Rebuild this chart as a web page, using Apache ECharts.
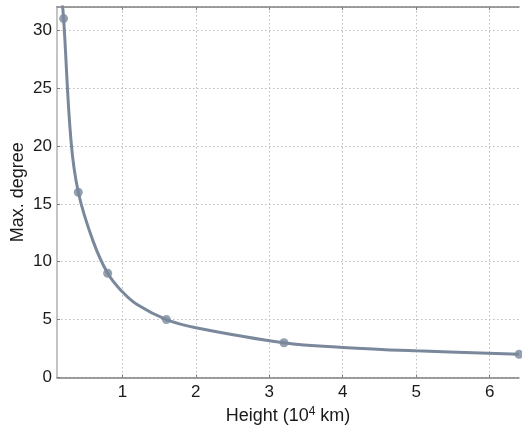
<!DOCTYPE html>
<html><head><meta charset="utf-8">
<script src="https://cdn.jsdelivr.net/npm/echarts@6/dist/echarts.min.js"></script>
<style>html,body{margin:0;padding:0;background:#fff}#c{width:522px;height:427px}</style>
</head><body><div id="c"></div>
<script>
// measured data points (height in 10^4 km, max degree)
var heights = [0.2, 0.4, 0.8, 1.6, 3.2, 6.4];
var degrees = [31, 16, 9, 5, 3, 2];
// curve (including where it leaves the top of the plot)
var curveX = [0.17, 0.2, 0.3, 0.4, 0.6, 0.8, 1.0, 1.2, 1.6, 2.0, 3.2, 4.0, 5.0, 6.4];
var curveY = [33, 31, 20.5, 16, 11.8, 9, 7.4, 6.3, 5, 4.3, 3, 2.6, 2.3, 2];
var xTicks = [1, 2, 3, 4, 5, 6];

var col = '#7a889b';
var chart = echarts.init(document.getElementById('c'), null, {renderer: 'canvas'});
var font = 'Liberation Sans, Arial, sans-serif';
chart.setOption({
  animation: false,
  grid: {left: 57, right: 3, top: 7, bottom: 49.5, containLabel: false, outerBoundsMode: 'none'},
  xAxis: [{
    type: 'value', min: 0.11, max: 6.4,
    name: 'Height (10{s|4} km)', nameLocation: 'middle', nameGap: 24,
    nameTextStyle: {fontFamily: font, fontSize: 18, color: '#1a1a1a', verticalAlign: 'top',
      rich: {s: {fontFamily: font, fontSize: 12, color: '#1a1a1a', verticalAlign: 'top', padding: [0,0,9,0]}}},
    axisLine: {show: true, onZero: false, lineStyle: {color: '#808080', width: 1.5}},
    axisTick: {show: true, inside: true, length: 3, customValues: xTicks, lineStyle: {color: '#808080'}},
    axisLabel: {customValues: xTicks, fontFamily: font, fontSize: 17, color: '#1a1a1a', margin: 6,
      formatter: function (v) { return String(v); }},
    splitLine: {show: true, lineStyle: {color: '#bdbdbd', type: [1.5, 2.5], width: 1}}
  }, {
    type: 'value', min: 0.11, max: 6.4, position: 'top',
    axisLine: {show: true, onZero: false, lineStyle: {color: '#808080', width: 1.5}},
    axisTick: {show: true, inside: true, length: 3, customValues: xTicks, lineStyle: {color: '#808080'}},
    axisLabel: {show: false}, splitLine: {show: false}
  }],
  yAxis: {
    type: 'value', min: 0, max: 32, interval: 5,
    name: 'Max. degree', nameLocation: 'middle', nameGap: 30, nameRotate: 90, nameMoveOverlap: false,
    nameTextStyle: {fontFamily: font, fontSize: 18, color: '#1a1a1a'},
    axisLine: {show: true, onZero: false, lineStyle: {color: '#c4c4c4', width: 2}},
    axisTick: {show: true, inside: true, length: 3, lineStyle: {color: '#808080'}},
    axisLabel: {fontFamily: font, fontSize: 17, color: '#1a1a1a', margin: 5, showMaxLabel: false},
    splitLine: {show: true, lineStyle: {color: '#bdbdbd', type: [1.5, 2.5], width: 1}}
  },
  series: [{
    type: 'line', smooth: 0.4, showSymbol: false, clip: true,
    data: curveX.map(function (x, i) { return [x, curveY[i]]; }),
    lineStyle: {color: col, width: 3}, itemStyle: {color: col}, z: 2
  }, {
    type: 'scatter', symbol: 'circle', symbolSize: 9, clip: false,
    data: heights.map(function (x, i) { return [x, degrees[i]]; }),
    itemStyle: {color: col}, z: 3
  }]
});
</script></body></html>
